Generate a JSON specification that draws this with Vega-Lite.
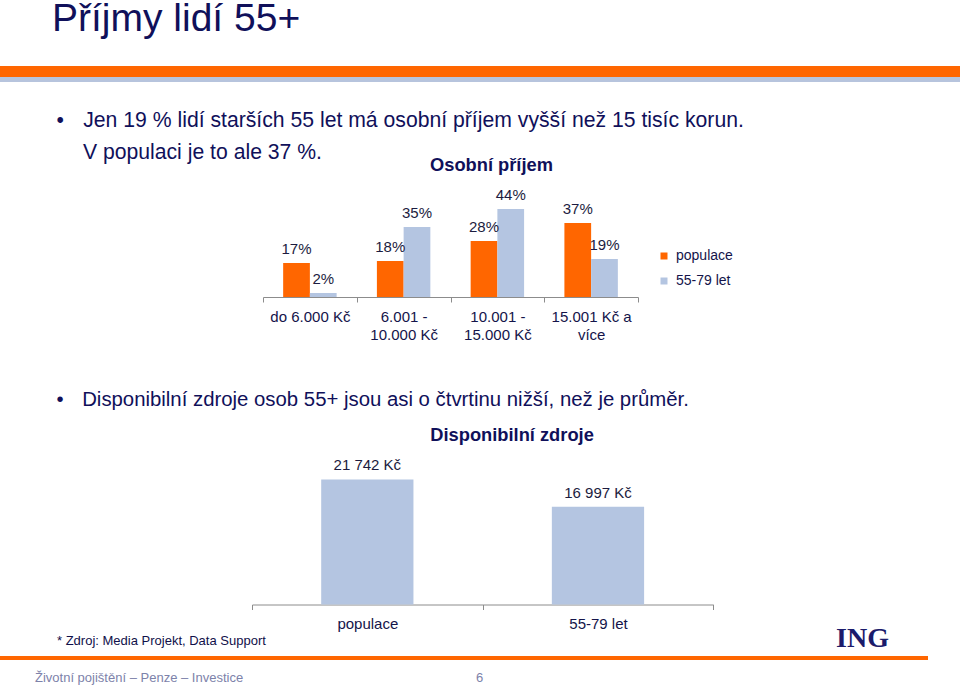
{
  "$schema": "https://vega.github.io/schema/vega-lite/v6.json",
  "padding": 0,
  "background": "white",
  "config": {
    "view": {"stroke": null},
    "font": "Liberation Sans",
    "locale": {"number": {"decimal": ",", "thousands": "\u00a0", "grouping": [3], "currency": ["", "\u00a0Kč"]}},
    "title": {"font": "Liberation Sans", "color": "#10105a", "fontWeight": "normal"}
  },
  "title": {"text": "Příjmy lidí 55+", "anchor": "start", "dx": 52, "fontSize": 39, "offset": 27},
  "bounds": "flush",
  "spacing": 0,
  "vconcat": [
    {"width": 960, "height": 11, "data": {"values": [{"pruh": "oranžový"}]}, "mark": {"type": "rect", "color": "#ff6600"}, "encoding": {}},
    {"width": 960, "height": 5, "data": {"values": [{"pruh": "modrý"}]}, "mark": {"type": "rect", "color": "#b7c4dd"}, "encoding": {}},
    {"width": 960, "height": 104.7, "data": {"values": []}, "mark": "point"},
    {
      "title": {"text": ["•\u2002\u2005\u2006Jen 19 % lidí starších 55 let má osobní příjem vyšší než 15 tisíc korun.", "\u200b\u2002\u2002\u2006\u200aV populaci je to ale 37 %."], "anchor": "start", "dx": 56.4, "fontSize": 21.2, "lineHeight": 32, "offset": 30, "dy": 37},
      "bounds": "flush",
      "spacing": 0,
      "hconcat": [
        {"width": 263, "height": 110, "data": {"values": []}, "mark": "point"},
        {
          "width": 375,
          "height": 110,
          "title": {"text": "Osobní příjem", "fontSize": 18.3, "fontWeight": "bold", "anchor": "middle", "dx": 41, "offset": 12},
          "data": {"values": [
            {"kategorie": "do 6.000 Kč", "skupina": "populace", "podil": 0.17},
            {"kategorie": "do 6.000 Kč", "skupina": "55-79 let", "podil": 0.02},
            {"kategorie": "6.001 -|10.000 Kč", "skupina": "populace", "podil": 0.18},
            {"kategorie": "6.001 -|10.000 Kč", "skupina": "55-79 let", "podil": 0.35},
            {"kategorie": "10.001 -|15.000 Kč", "skupina": "populace", "podil": 0.28},
            {"kategorie": "10.001 -|15.000 Kč", "skupina": "55-79 let", "podil": 0.44},
            {"kategorie": "15.001 Kč a|více", "skupina": "populace", "podil": 0.37},
            {"kategorie": "15.001 Kč a|více", "skupina": "55-79 let", "podil": 0.19}
          ]},
          "encoding": {
            "x": {"field": "kategorie", "type": "nominal", "sort": null,
                  "scale": {"paddingInner": 0, "paddingOuter": 0},
                  "axis": {"title": null, "labelAngle": 0, "labelExpr": "split(datum.label, '|')", "tickBand": "extent",
                           "domainColor": "#8c8c8c", "tickColor": "#8c8c8c", "tickSize": 5, "labelFontSize": 15,
                           "labelColor": "#14144a", "labelPadding": 7, "labelLineHeight": 18}},
            "xOffset": {"field": "skupina", "type": "nominal", "sort": ["populace", "55-79 let"], "scale": {"paddingInner": 0, "paddingOuter": 0.754}},
            "y": {"field": "podil", "type": "quantitative", "scale": {"domain": [0, 0.55]}, "axis": null}
          },
          "layer": [
            {"mark": {"type": "bar"},
             "encoding": {"color": {"field": "skupina", "type": "nominal", "sort": ["populace", "55-79 let"],
                                    "scale": {"domain": ["populace", "55-79 let"], "range": ["#ff6600", "#b4c5e1"]},
                                    "legend": {"title": null, "orient": "none", "legendX": 657, "legendY": 183, "symbolType": "square", "symbolSize": 49, "symbolStrokeWidth": 0, "labelFontSize": 14, "labelColor": "#14144a", "rowPadding": 11, "labelOffset": 5, "padding": 0}}}},
            {"mark": {"type": "text", "baseline": "middle", "dy": -14, "fontSize": 15, "color": "#1c1c40"},
             "encoding": {"text": {"field": "podil", "type": "quantitative", "format": ".0%"}}}
          ]
        }
      ]
    },
    {"width": 960, "height": 267.1, "data": {"values": []}, "mark": "point"},
    {
      "title": {"text": "•\u2002\u2005\u2006Disponibilní zdroje osob 55+ jsou asi o čtvrtinu nižší, než je průměr.", "anchor": "start", "dx": 56.4, "fontSize": 20.35, "offset": 40, "dy": 25},
      "bounds": "flush",
      "spacing": 0,
      "hconcat": [
        {"width": 251.7, "height": 149.5, "data": {"values": []}, "mark": "point",
         "title": {"text": "* Zdroj: Media Projekt, Data Support", "orient": "bottom", "anchor": "start", "dx": 57, "fontSize": 13, "offset": 30.7, "color": "#10104a"}},
        {
          "width": 461.3,
          "height": 149.5,
          "title": {"text": "Disponibilní zdroje", "fontSize": 18.3, "fontWeight": "bold", "anchor": "middle", "dx": 29.4, "offset": 10},
          "data": {"values": [
            {"skupina": "populace", "castka": 21742},
            {"skupina": "55-79 let", "castka": 16997}
          ]},
          "encoding": {
            "x": {"field": "skupina", "type": "nominal", "sort": null,
                  "scale": {"paddingInner": 0, "paddingOuter": 0},
                  "axis": {"title": null, "labelAngle": 0, "tickBand": "extent",
                           "domainColor": "#8c8c8c", "tickColor": "#8c8c8c", "tickSize": 5, "labelFontSize": 15,
                           "labelColor": "#14144a", "labelPadding": 7}},
            "y": {"field": "castka", "type": "quantitative", "scale": {"domain": [0, 26000]}, "axis": null}
          },
          "layer": [
            {"mark": {"type": "bar", "color": "#b4c5e1", "width": {"band": 0.4}}},
            {"mark": {"type": "text", "baseline": "middle", "dy": -14, "fontSize": 15, "color": "#1c1c40"},
             "encoding": {"text": {"field": "castka", "type": "quantitative", "format": "$,.0f"}}}
          ]
        },
        {"width": 175, "height": 149.5, "data": {"values": []}, "mark": "point",
         "title": {"text": "ING", "orient": "bottom", "anchor": "end", "font": "Liberation Serif", "fontWeight": "bold", "fontSize": 28, "color": "#1b1b6b", "offset": 20}}
      ]
    },
    {"width": 960, "height": 200.2, "data": {"values": []}, "mark": "point"},
    {
      "bounds": "flush",
      "spacing": 0,
      "hconcat": [
        {"width": 476, "height": 4, "data": {"values": [{"pruh": "zápatí"}]}, "mark": {"type": "rect", "color": "#ff6600"}, "encoding": {},
         "title": {"text": "Životní pojištění – Penze – Investice", "orient": "bottom", "anchor": "start", "dx": 35, "fontSize": 13, "color": "#7d82aa", "offset": 11.5}},
        {"width": 452, "height": 4, "data": {"values": [{"pruh": "zápatí"}]}, "mark": {"type": "rect", "color": "#ff6600"}, "encoding": {},
         "title": {"text": "6", "orient": "bottom", "anchor": "start", "dx": 0, "fontSize": 13, "color": "#7d82aa", "offset": 11.5}}
      ]
    }
  ]
}
